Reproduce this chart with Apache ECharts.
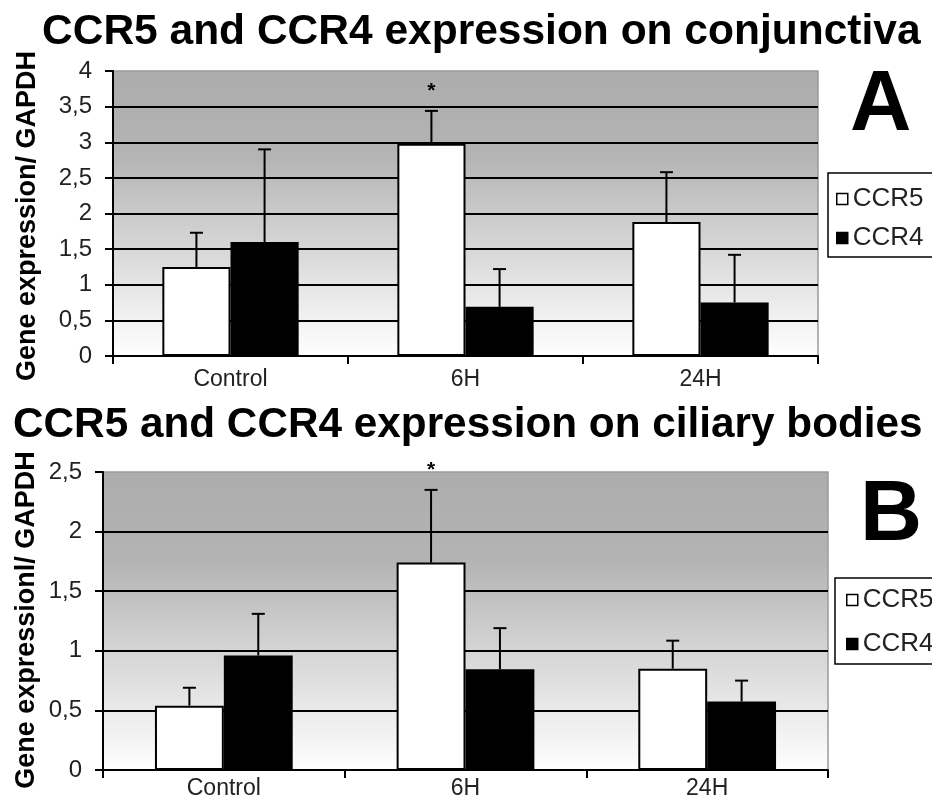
<!DOCTYPE html>
<html>
<head>
<meta charset="utf-8">
<script src="https://cdn.jsdelivr.net/npm/echarts@6/dist/echarts.min.js"></script>
<style>
html,body{margin:0;padding:0;background:#fff;}
#chart{width:932px;height:803px;}
</style>
</head>
<body>
<div id="chart"></div>
<script>
// ---- data ----
var categories = ['Control', '6H', '24H'];
var seriesNames = ['CCR5', 'CCR4'];

// Panel A: conjunctiva
var conjCCR5 = [1.25, 2.98, 1.88];
var conjCCR5Sd = [0.48, 0.46, 0.70];
var conjCCR4 = [1.60, 0.69, 0.75];
var conjCCR4Sd = [1.30, 0.53, 0.67];
var conjMarks = ['', '*', ''];
var conjTicks = [0, 0.5, 1, 1.5, 2, 2.5, 3, 3.5, 4];

// Panel B: ciliary bodies
var cilCCR5 = [0.54, 1.74, 0.85];
var cilCCR5Sd = [0.15, 0.61, 0.235];
var cilCCR4 = [0.96, 0.845, 0.575];
var cilCCR4Sd = [0.35, 0.345, 0.175];
var cilMarks = ['', '*', ''];
var cilTicks = [0, 0.5, 1, 1.5, 2, 2.5];

var titleA = 'CCR5 and CCR4 expression on conjunctiva';
var titleB = 'CCR5 and CCR4 expression on ciliary bodies';
var yNameA = 'Gene expression/ GAPDH';
var yNameB = 'Gene expressionl/ GAPDH';

// ---- chart ----
var FONT = "'Liberation Sans', Arial, Helvetica, sans-serif";
var chart = echarts.init(document.getElementById('chart'), null, {renderer: 'canvas'});

function bg() {
  return new echarts.graphic.LinearGradient(0, 0, 0, 1, [
    {offset: 0, color: '#acacac'},
    {offset: 0.3, color: '#b4b4b4'},
    {offset: 0.65, color: '#dadada'},
    {offset: 1, color: '#ffffff'}
  ]);
}

function fmt(v) { return String(v).replace('.', ','); }

function xAxisCfg(gridIndex, margin) {
  return {
    type: 'category', gridIndex: gridIndex, data: categories,
    axisLine: {lineStyle: {color: '#000', width: 2}},
    axisTick: {show: true, length: 8, lineStyle: {color: '#000', width: 2}},
    axisLabel: {fontFamily: FONT, fontSize: 23, color: '#222', margin: margin},
    splitLine: {show: false}
  };
}
function yAxisCfg(gridIndex, ticks) {
  return {
    type: 'value', gridIndex: gridIndex,
    min: ticks[0], max: ticks[ticks.length - 1], interval: ticks[1] - ticks[0],
    axisLine: {show: true, lineStyle: {color: '#000', width: 2}},
    axisTick: {show: true, length: 8, lineStyle: {color: '#000', width: 2}},
    axisLabel: {fontFamily: FONT, fontSize: 24, color: '#222', margin: 21, formatter: fmt},
    splitLine: {show: true, showMaxLine: false, lineStyle: {color: '#000', width: 2}}
  };
}

function barSeries(name, data, axisIdx, color, width) {
  return {
    type: 'bar', name: name, data: data,
    xAxisIndex: axisIdx, yAxisIndex: axisIdx,
    barWidth: width, barGap: '0%',
    itemStyle: {color: color, borderColor: '#000', borderWidth: 2},
    z: 3
  };
}

function errSeries(name, means, sds, marks, axisIdx, side, widthFrac) {
  var data = means.map(function (m, i) { return [i, m, sds[i]]; });
  return {
    type: 'custom', name: name, xAxisIndex: axisIdx, yAxisIndex: axisIdx,
    data: data, z: 5, silent: true,
    encode: {x: 0, y: 1},
    renderItem: function (params, api) {
      var i = api.value(0), m = api.value(1), s = api.value(2);
      var band = api.size([1, 0])[0];
      var dx = side * band * widthFrac / 2;
      var p0 = api.coord([i, m]);
      var p1 = api.coord([i, m + s]);
      var x = p0[0] + dx;
      var children = [
        {type: 'line', shape: {x1: x, y1: p0[1], x2: x, y2: p1[1]}, style: {stroke: '#000', lineWidth: 2}},
        {type: 'line', shape: {x1: x - 6.5, y1: p1[1], x2: x + 6.5, y2: p1[1]}, style: {stroke: '#000', lineWidth: 2}}
      ];
      var mk = marks[params.dataIndex];
      if (mk) {
        children.push({type: 'text', x: x, y: p1[1] - 20,
          style: {text: mk, fontSize: 21, fontWeight: 'bold', fontFamily: FONT, fill: '#000', align: 'center', verticalAlign: 'middle'}});
      }
      return {type: 'group', children: children};
    }
  };
}

var legendCommon = {
  orient: 'vertical', data: seriesNames, icon: 'rect',
  itemWidth: 11, itemHeight: 11,
  borderColor: '#000', borderWidth: 1.5, borderRadius: 0,
  itemStyle: {borderColor: '#000', borderWidth: 1.5},
  textStyle: {fontFamily: FONT, fontSize: 26, color: '#222'},
  selectedMode: false
};

var option = {
  backgroundColor: '#fff',
  animation: false,
  title: [
    {text: titleA, left: 42, top: 11, padding: 0, textStyle: {fontFamily: FONT, fontSize: 42.5, fontWeight: 'bold', color: '#000'}},
    {text: titleB, left: 13, top: 404, padding: 0, textStyle: {fontFamily: FONT, fontSize: 42.3, fontWeight: 'bold', color: '#000'}},
    {text: 'A', left: 850, top: 64, padding: 0, textStyle: {fontFamily: FONT, fontSize: 85, fontWeight: 'bold', color: '#000'}},
    {text: 'B', left: 860, top: 473, padding: 0, textStyle: {fontFamily: FONT, fontSize: 86, fontWeight: 'bold', color: '#000'}}
  ],
  legend: [
    Object.assign({}, legendCommon, {left: 828, top: 173, padding: [13, 20, 6, 8], itemGap: 13}),
    Object.assign({}, legendCommon, {left: 835, top: 578, padding: [9, 20, 7, 11], itemGap: 18})
  ],
  grid: [
    {left: 113, top: 71, width: 705, height: 285, show: true, backgroundColor: bg(), borderColor: '#9a9a9a', borderWidth: 1.5},
    {left: 103, top: 472, width: 725, height: 298, show: true, backgroundColor: bg(), borderColor: '#9a9a9a', borderWidth: 1.5}
  ],
  xAxis: [xAxisCfg(0, 12), xAxisCfg(1, 7)],
  yAxis: [yAxisCfg(0, conjTicks), yAxisCfg(1, cilTicks)],
  graphic: [
    {type: 'text', x: 28, y: 216, rotation: Math.PI / 2,
      style: {text: yNameA, fontFamily: FONT, fontSize: 27, fontWeight: 'bold', fill: '#000', align: 'center', verticalAlign: 'middle'}},
    {type: 'text', x: 27, y: 620, rotation: Math.PI / 2,
      style: {text: yNameB, fontFamily: FONT, fontSize: 27, fontWeight: 'bold', fill: '#000', align: 'center', verticalAlign: 'middle'}}
  ],
  series: [
    barSeries('CCR5', conjCCR5, 0, '#ffffff', '29%'),
    barSeries('CCR4', conjCCR4, 0, '#000000', '29%'),
    errSeries('CCR5 SD A', conjCCR5, conjCCR5Sd, conjMarks, 0, -1, 0.29),
    errSeries('CCR4 SD A', conjCCR4, conjCCR4Sd, ['', '', ''], 0, 1, 0.29),
    barSeries('CCR5', cilCCR5, 1, '#ffffff', '28.5%'),
    barSeries('CCR4', cilCCR4, 1, '#000000', '28.5%'),
    errSeries('CCR5 SD B', cilCCR5, cilCCR5Sd, cilMarks, 1, -1, 0.285),
    errSeries('CCR4 SD B', cilCCR4, cilCCR4Sd, ['', '', ''], 1, 1, 0.285)
  ]
};
chart.setOption(option);
</script>
</body>
</html>
